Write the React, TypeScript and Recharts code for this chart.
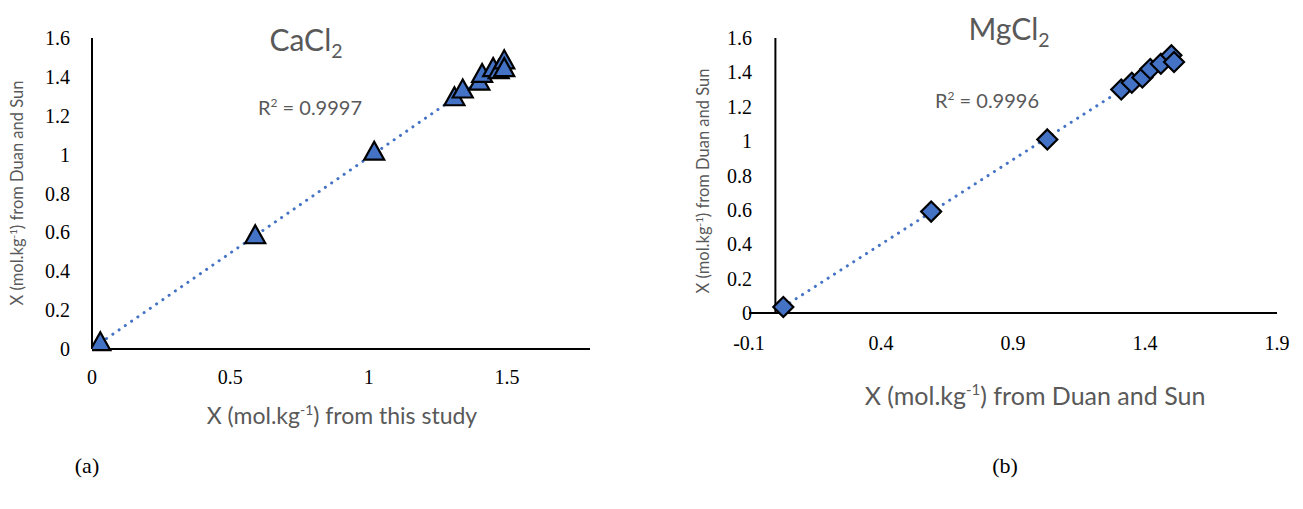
import React from "react"
import { ReferenceLine, Scatter, ScatterChart, XAxis, YAxis } from "recharts"

// (a) CaCl2: this study vs Duan and Sun
const cacl2ThisStudy = [0.03, 0.59, 1.02, 1.31, 1.34, 1.4, 1.41, 1.45, 1.47, 1.49, 1.49]
const cacl2DuanSun = [0.03, 0.58, 1.01, 1.29, 1.33, 1.37, 1.41, 1.44, 1.43, 1.48, 1.44]

// (b) MgCl2
const mgcl2X = [0.03, 0.59, 1.03, 1.31, 1.35, 1.39, 1.42, 1.46, 1.5, 1.51]
const mgcl2Y = [0.035, 0.59, 1.01, 1.3, 1.34, 1.37, 1.42, 1.45, 1.5, 1.46]

const cacl2XTicks = [0, 0.5, 1, 1.5]
const mgcl2XTicks = [-0.1, 0.4, 0.9, 1.4, 1.9]
const yTicks = [0, 0.2, 0.4, 0.6, 0.8, 1, 1.2, 1.4, 1.6]

const r2Values = ["0.9997", "0.9996"]

const BLUE = "#4472C4"
const GREY = "#595959"
const SANS = "Lato, 'Noto Sans', sans-serif"
const SERIF = "'Liberation Serif', 'Times New Roman', serif"

const toPoints = (xs: number[], ys: number[]) => xs.map((x, i) => ({ x, y: ys[i] }))

// least squares trendline, drawn from min x to max x like Excel does
function trend(xs: number[], ys: number[]) {
  const n = xs.length
  const mx = xs.reduce((a, b) => a + b, 0) / n
  const my = ys.reduce((a, b) => a + b, 0) / n
  let sxy = 0
  let sxx = 0
  xs.forEach((x, i) => {
    sxy += (x - mx) * (ys[i] - my)
    sxx += (x - mx) * (x - mx)
  })
  const b = sxy / sxx
  const a = my - b * mx
  const lo = Math.min(...xs)
  const hi = Math.max(...xs)
  return [
    { x: lo, y: a + b * lo },
    { x: hi, y: a + b * hi },
  ]
}

const fmt = (v: number) => String(Math.round(v * 10) / 10)

// serif tick labels, like the Times labels in the original figure
const XTick = (props: any) => {
  const { x, y, payload } = props
  return (
    <text x={x} y={y} dy="0.71em" textAnchor="middle" fontFamily={SERIF} fontSize={20} fill="#000">
      {fmt(payload.value)}
    </text>
  )
}

const YTick = (shift: number) => (props: any) => {
  const { x, y, payload } = props
  return (
    <text x={x + shift} y={y} dy="0.35em" textAnchor="end" fontFamily={SERIF} fontSize={20} fill="#000">
      {fmt(payload.value)}
    </text>
  )
}

const Triangle = (props: any) => {
  const { cx, cy } = props
  return (
    <polygon
      points={`${cx},${cy - 11} ${cx + 10},${cy + 7} ${cx - 10},${cy + 7}`}
      fill={BLUE}
      stroke="#000"
      strokeWidth={2.2}
    />
  )
}

const Diamond = (props: any) => {
  const { cx, cy } = props
  return (
    <polygon
      points={`${cx},${cy - 10} ${cx + 10},${cy} ${cx},${cy + 10} ${cx - 10},${cy}`}
      fill={BLUE}
      stroke="#000"
      strokeWidth={2.2}
    />
  )
}

const Nothing = () => <g />

const trendLine = { stroke: BLUE, strokeWidth: 3, strokeDasharray: "0.1 7.5", strokeLinecap: "round" as const }

const Unit = () => (
  <>
    X (mol.kg<sup style={{ fontSize: "0.6em" }}>-1</sup>)
  </>
)

function Text({ x, y, size, rotate, serif, color, children }: any) {
  return (
    <div
      style={{
        position: "absolute",
        left: x,
        top: y,
        transform: `translate(-50%, -50%)${rotate ? " rotate(-90deg)" : ""}`,
        whiteSpace: "nowrap",
        fontFamily: serif ? SERIF : SANS,
        fontSize: size,
        color: color ?? GREY,
        lineHeight: 1,
      }}
    >
      {children}
    </div>
  )
}

export default function App() {
  const cacl2 = toPoints(cacl2ThisStudy, cacl2DuanSun)
  const mgcl2 = toPoints(mgcl2X, mgcl2Y)

  return (
    <div style={{ position: "absolute", left: 0, top: 0, width: 1303, height: 509, background: "#fff" }}>
      <div style={{ position: "absolute", left: 0, top: 0 }}>
        <ScatterChart width={620} height={450} margin={{ top: 38, right: 30, bottom: 71, left: 32 }}>
          <XAxis
            type="number"
            dataKey="x"
            domain={[0, 1.8]}
            ticks={cacl2XTicks}
            height={30}
            tickLine={false}
            tickSize={0}
            tickMargin={21}
            axisLine={{ stroke: "#000", strokeWidth: 2 }}
            tick={XTick}
            allowDataOverflow
          />
          <YAxis
            type="number"
            dataKey="y"
            domain={[0, 1.6]}
            ticks={yTicks}
            width={60}
            tickLine={false}
            tickSize={0}
            tickMargin={22}
            axisLine={{ stroke: "#000", strokeWidth: 2 }}
            tick={YTick(0)}
          />
          <Scatter
            data={trend(cacl2ThisStudy, cacl2DuanSun)}
            line={trendLine}
            shape={Nothing}
            isAnimationActive={false}
          />
          <Scatter data={cacl2} shape={Triangle} isAnimationActive={false} />
        </ScatterChart>
      </div>

      <div style={{ position: "absolute", left: 650, top: 0 }}>
        <ScatterChart width={653} height={450} margin={{ top: 38, right: 26, bottom: 107, left: 39 }}>
          <XAxis
            type="number"
            dataKey="x"
            domain={[-0.1, 1.9]}
            ticks={mgcl2XTicks}
            height={30}
            tickLine={false}
            tickSize={0}
            tickMargin={23}
            axisLine={{ stroke: "#000", strokeWidth: 2 }}
            tick={XTick}
          />
          <YAxis
            type="number"
            dataKey="y"
            domain={[0, 1.6]}
            ticks={yTicks}
            width={60}
            tickLine={false}
            tickSize={0}
            tickMargin={0}
            axisLine={false}
            tick={YTick(3)}
          />
          <ReferenceLine x={0} stroke="#000" strokeWidth={2} />
          <Scatter data={trend(mgcl2X, mgcl2Y)} line={trendLine} shape={Nothing} isAnimationActive={false} />
          <Scatter data={mgcl2} shape={Diamond} isAnimationActive={false} />
        </ScatterChart>
      </div>

      <Text x={306} y={42} size={30}>
        CaCl<sub style={{ fontSize: "0.65em" }}>2</sub>
      </Text>
      <Text x={310} y={107} size={20}>
        R<sup style={{ fontSize: "0.6em" }}>2</sup> = {r2Values[0]}
      </Text>
      <Text x={342} y={415} size={23}>
        <Unit /> from this study
      </Text>
      <Text x={17} y={193} size={16.5} rotate>
        <Unit /> from Duan and Sun
      </Text>

      <Text x={1009} y={31} size={30}>
        MgCl<sub style={{ fontSize: "0.65em" }}>2</sub>
      </Text>
      <Text x={987} y={100} size={20}>
        R<sup style={{ fontSize: "0.6em" }}>2</sup> = {r2Values[1]}
      </Text>
      <Text x={1035} y={395} size={25}>
        <Unit /> from Duan and Sun
      </Text>
      <Text x={703} y={181} size={16.5} rotate>
        <Unit /> from Duan and Sun
      </Text>

      <Text x={87} y={466} size={22} serif color="#000">
        (a)
      </Text>
      <Text x={1005} y={466} size={22} serif color="#000">
        (b)
      </Text>
    </div>
  )
}
